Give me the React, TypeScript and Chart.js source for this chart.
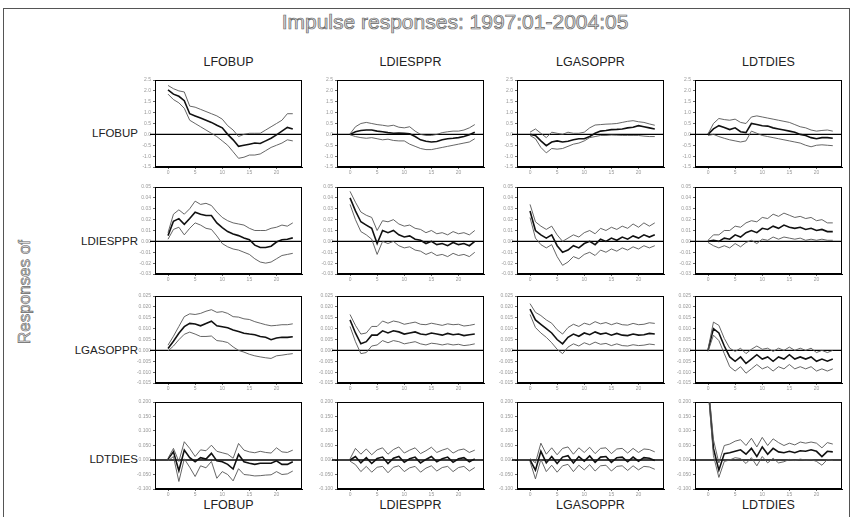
import React, { useEffect, useRef } from "react";
import { Chart, registerables } from "chart.js";

Chart.register(...registerables);

// ---------- DATA ----------
const TITLE = "Impulse responses: 1997:01-2004:05";
const SIDE_TITLE = "Responses of";
const VARS = ["LFOBUP", "LDIESPPR", "LGASOPPR", "LDTDIES"];
const PERIODS = [0, 1, 2, 3, 4, 5, 6, 7, 8, 9, 10, 11, 12, 13, 14, 15, 16, 17, 18, 19, 20, 21, 22, 23];
const X_TICKS = [0, 5, 10, 15, 20];
const Y_MIN = [-1.5, -0.03, -0.015, -0.1];
const Y_MAX = [2.5, 0.05, 0.025, 0.2];
const Y_STEP = [0.5, 0.01, 0.005, 0.05];
const Y_DEC = [1, 2, 3, 3];

// Row 1: responses of LFOBUP
const R1C1_MID = [2.05, 1.85, 1.75, 1.55, 0.95, 0.85, 0.75, 0.65, 0.55, 0.42, 0.3, 0.0, -0.25, -0.55, -0.5, -0.45, -0.4, -0.42, -0.3, -0.18, -0.02, 0.15, 0.32, 0.25];
const R1C1_UP = [2.25, 2.1, 2.0, 1.95, 1.3, 1.25, 1.15, 1.05, 0.95, 0.85, 0.7, 0.4, 0.2, -0.1, 0.0, 0.05, 0.05, 0.05, 0.2, 0.35, 0.5, 0.65, 0.95, 0.95];
const R1C1_LO = [1.85, 1.6, 1.45, 1.2, 0.65, 0.5, 0.35, 0.2, 0.05, -0.1, -0.3, -0.5, -0.8, -1.1, -1.05, -0.95, -0.95, -0.9, -0.75, -0.6, -0.5, -0.4, -0.25, -0.3];

const R1C2_MID = [0.0, 0.12, 0.18, 0.2, 0.2, 0.15, 0.12, 0.08, 0.05, 0.06, 0.05, 0.03, -0.1, -0.25, -0.32, -0.35, -0.33, -0.25, -0.2, -0.18, -0.15, -0.1, -0.02, 0.1];
const R1C2_UP = [0.02, 0.35, 0.5, 0.55, 0.5, 0.45, 0.42, 0.38, 0.42, 0.33, 0.3, 0.35, 0.15, 0.0, -0.05, -0.05, 0.0, 0.08, 0.12, 0.15, 0.15, 0.2, 0.3, 0.45];
const R1C2_LO = [-0.02, -0.1, -0.15, -0.18, -0.15, -0.2, -0.25, -0.22, -0.28, -0.3, -0.3, -0.45, -0.55, -0.65, -0.7, -0.7, -0.65, -0.6, -0.55, -0.5, -0.45, -0.4, -0.35, -0.2];

const R1C3_MID = [0.0, -0.05, -0.3, -0.52, -0.35, -0.3, -0.35, -0.32, -0.25, -0.2, -0.2, -0.1, 0.05, 0.15, 0.18, 0.22, 0.23, 0.25, 0.3, 0.33, 0.4, 0.35, 0.3, 0.25];
const R1C3_UP = [0.1, 0.25, 0.05, -0.15, 0.1, 0.05, 0.0, 0.1, 0.05, 0.05, 0.1, 0.3, 0.43, 0.45, 0.47, 0.48, 0.5, 0.55, 0.6, 0.63, 0.58, 0.55, 0.48, 0.42];
const R1C3_LO = [-0.05, -0.2, -0.6, -0.85, -0.65, -0.68, -0.65, -0.55, -0.45, -0.4, -0.3, -0.15, -0.1, -0.05, -0.05, -0.03, -0.04, -0.05, -0.05, -0.05, -0.05, -0.08, -0.1, -0.1];

const R1C4_MID = [0.0, 0.25, 0.4, 0.32, 0.22, 0.3, 0.12, 0.08, 0.5, 0.45, 0.4, 0.38, 0.3, 0.25, 0.2, 0.15, 0.1, 0.0, -0.05, -0.15, -0.2, -0.15, -0.15, -0.18];
const R1C4_UP = [0.02, 0.5, 0.73, 0.68, 0.65, 0.7, 0.55, 0.5, 0.8, 0.85, 0.8, 0.75, 0.7, 0.65, 0.6, 0.55, 0.45, 0.35, 0.3, 0.2, 0.15, 0.18, 0.2, 0.15];
const R1C4_LO = [-0.05, 0.0, -0.1, -0.18, -0.25, -0.3, -0.35, -0.3, 0.15, 0.05, -0.05, -0.1, -0.15, -0.2, -0.25, -0.3, -0.35, -0.4, -0.5, -0.57, -0.5, -0.48, -0.5, -0.52];

// Row 2: responses of LDIESPPR
const R2C1_MID = [0.0053, 0.0185, 0.0209, 0.0156, 0.021, 0.0268, 0.025, 0.0238, 0.0238, 0.017, 0.0126, 0.009, 0.0068, 0.0053, 0.0032, 0.0015, -0.0035, -0.0056, -0.0056, -0.0044, -0.0006, 0.0015, 0.002, 0.0032];
const R2C1_UP = [0.008, 0.025, 0.029, 0.025, 0.03, 0.037, 0.034, 0.035, 0.033, 0.027, 0.022, 0.019, 0.017, 0.016, 0.015, 0.012, 0.01, 0.01, 0.01, 0.012, 0.013, 0.015, 0.014, 0.017];
const R2C1_LO = [0.002, 0.011, 0.013, 0.006, 0.012, 0.017, 0.015, 0.012, 0.011, 0.005, -0.002, -0.005, -0.007, -0.008, -0.01, -0.012, -0.016, -0.019, -0.02, -0.019, -0.016, -0.013, -0.012, -0.011];

const R2C2_MID = [0.04, 0.028, 0.018, 0.015, 0.012, -0.002, 0.01, 0.008, 0.01, 0.006, 0.004, 0.005, 0.002, 0.001, -0.002, 0.0, -0.003, -0.002, -0.004, -0.001, -0.003, -0.002, -0.004, 0.0];
const R2C2_UP = [0.046, 0.036, 0.027, 0.024, 0.022, 0.01, 0.019, 0.018, 0.02, 0.016, 0.014, 0.015, 0.012, 0.011, 0.008, 0.01, 0.007, 0.008, 0.006, 0.009, 0.007, 0.008, 0.006, 0.01];
const R2C2_LO = [0.034, 0.02, 0.009, 0.006, 0.002, -0.012, 0.0, -0.002, 0.0, -0.004, -0.006, -0.005, -0.008, -0.009, -0.012, -0.01, -0.013, -0.012, -0.014, -0.011, -0.013, -0.012, -0.014, -0.01];

const R2C3_MID = [0.028, 0.01, 0.006, 0.003, 0.006, -0.004, -0.01, -0.008, -0.004, -0.006, -0.002, 0.0, -0.003, 0.002, 0.0, 0.003, 0.001, 0.004, 0.002, 0.005, 0.003, 0.006, 0.004, 0.006];
const R2C3_UP = [0.034, 0.018, 0.014, 0.011, 0.014, 0.006, 0.0, 0.003, 0.006, 0.004, 0.008, 0.01, 0.007, 0.012, 0.01, 0.013, 0.011, 0.014, 0.012, 0.016, 0.013, 0.017, 0.014, 0.017];
const R2C3_LO = [0.022, 0.003, -0.003, -0.006, -0.003, -0.014, -0.022, -0.019, -0.014, -0.016, -0.012, -0.01, -0.013, -0.008, -0.01, -0.007, -0.009, -0.006, -0.008, -0.005, -0.007, -0.004, -0.006, -0.004];

const R2C4_MID = [0.0, 0.001, 0.0, 0.003, 0.002, 0.006, 0.004, 0.008, 0.01, 0.008, 0.012, 0.011, 0.014, 0.012, 0.015, 0.013, 0.012, 0.013, 0.011, 0.012, 0.01, 0.011, 0.009, 0.009];
const R2C4_UP = [0.001, 0.006, 0.006, 0.01, 0.01, 0.014, 0.013, 0.017, 0.019, 0.018, 0.022, 0.021, 0.025, 0.023, 0.026, 0.024, 0.022, 0.023, 0.021, 0.022, 0.019, 0.02, 0.017, 0.017];
const R2C4_LO = [-0.001, -0.004, -0.006, -0.004, -0.006, -0.002, -0.005, -0.001, 0.001, -0.002, 0.002, 0.001, 0.004, 0.002, 0.004, 0.003, 0.002, 0.003, 0.001, 0.002, 0.001, 0.002, 0.001, 0.001];

// Row 3: responses of LGASOPPR
const R3C1_MID = [0.0009, 0.0042, 0.0079, 0.0109, 0.0124, 0.0121, 0.0113, 0.0124, 0.0134, 0.0113, 0.0109, 0.0104, 0.0094, 0.0087, 0.0079, 0.0075, 0.0072, 0.0064, 0.006, 0.0049, 0.0057, 0.006, 0.006, 0.0063];
const R3C1_UP = [0.0024, 0.0065, 0.011, 0.0155, 0.0168, 0.0165, 0.017, 0.018, 0.0187, 0.0175, 0.0178, 0.017, 0.0155, 0.0153, 0.0145, 0.0142, 0.0132, 0.0125, 0.0118, 0.0113, 0.0115, 0.0118, 0.0118, 0.0122];
const R3C1_LO = [-0.0003, 0.002, 0.0049, 0.0074, 0.0084, 0.0075, 0.0064, 0.0064, 0.0066, 0.0045, 0.0042, 0.0036, 0.0016, 0.0, -0.0008, -0.0018, -0.0025, -0.003, -0.0034, -0.0037, -0.0025, -0.0022, -0.0018, -0.0015];

const R3C2_MID = [0.014, 0.008, 0.003, 0.004, 0.007, 0.007, 0.009, 0.008, 0.009, 0.0085, 0.0075, 0.008, 0.0085, 0.0075, 0.0072, 0.008, 0.0075, 0.007, 0.0078, 0.0072, 0.0075, 0.0068, 0.0072, 0.0075];
const R3C2_UP = [0.0165, 0.0115, 0.0075, 0.008, 0.011, 0.011, 0.0135, 0.0125, 0.0135, 0.013, 0.012, 0.0125, 0.013, 0.012, 0.0118, 0.0125, 0.012, 0.0115, 0.0122, 0.0118, 0.012, 0.0112, 0.0115, 0.012];
const R3C2_LO = [0.011, 0.004, -0.0015, -0.001, 0.002, 0.0025, 0.0045, 0.0035, 0.0045, 0.004, 0.003, 0.0035, 0.004, 0.003, 0.0025, 0.0033, 0.003, 0.0025, 0.003, 0.0025, 0.0028, 0.0022, 0.0025, 0.003];

const R3C3_MID = [0.019, 0.014, 0.012, 0.01, 0.008, 0.005, 0.003, 0.006, 0.0075, 0.0065, 0.008, 0.0072, 0.0085, 0.0075, 0.008, 0.007, 0.0078, 0.007, 0.0068, 0.0075, 0.007, 0.0072, 0.0078, 0.0075];
const R3C3_UP = [0.0215, 0.0175, 0.016, 0.014, 0.0125, 0.0095, 0.0075, 0.0105, 0.012, 0.011, 0.0125, 0.0118, 0.0132, 0.0122, 0.0128, 0.0118, 0.0126, 0.0118, 0.0116, 0.0124, 0.0118, 0.012, 0.0127, 0.0124];
const R3C3_LO = [0.0165, 0.0105, 0.008, 0.006, 0.0035, 0.0005, -0.0015, 0.0015, 0.003, 0.002, 0.0035, 0.0026, 0.0038, 0.0028, 0.0032, 0.0022, 0.003, 0.0022, 0.002, 0.0026, 0.0022, 0.0024, 0.0029, 0.0026];

const R3C4_MID = [0.0, 0.01, 0.008, 0.002, -0.003, -0.005, -0.003, -0.006, -0.004, -0.002, -0.004, -0.003, -0.005, -0.003, -0.004, -0.002, -0.004, -0.003, -0.004, -0.003, -0.005, -0.004, -0.005, -0.004];
const R3C4_UP = [0.0005, 0.013, 0.0115, 0.0055, 0.001, -0.0005, 0.001, -0.0015, 0.0005, 0.002, 0.0005, 0.001, -0.0005, 0.001, 0.0, 0.0015, 0.0, 0.001, 0.0, 0.001, -0.001, 0.0, -0.001, 0.0];
const R3C4_LO = [-0.0005, 0.007, 0.0045, -0.0015, -0.0075, -0.0095, -0.0075, -0.0105, -0.0085, -0.0065, -0.0085, -0.0075, -0.0095, -0.0075, -0.0085, -0.0065, -0.0085, -0.0075, -0.0085, -0.0075, -0.0095, -0.0085, -0.0095, -0.0085];

// Row 4: responses of LDTDIES
const R4C1_MID = [0.003, 0.028, -0.037, 0.034, 0.008, -0.006, 0.008, 0.003, 0.023, -0.003, -0.006, -0.015, -0.031, 0.019, -0.006, -0.011, -0.015, -0.011, -0.011, -0.011, -0.003, -0.015, -0.015, -0.006];
const R4C1_UP = [0.006, 0.04, -0.005, 0.063, 0.04, 0.012, 0.035, 0.032, 0.051, 0.03, 0.025, 0.02, 0.006, 0.057, 0.034, 0.028, 0.025, 0.03, 0.026, 0.024, 0.042, 0.028, 0.026, 0.034];
const R4C1_LO = [-0.003, 0.012, -0.074, 0.004, -0.025, -0.057, -0.02, -0.027, -0.005, -0.063, -0.04, -0.05, -0.072, -0.03, -0.05, -0.052, -0.055, -0.054, -0.052, -0.051, -0.04, -0.05, -0.048, -0.038];

const R4C2_MID = [0.0, 0.012, -0.01, 0.008, -0.012, 0.005, 0.01, -0.012, 0.006, 0.012, -0.008, 0.004, 0.01, -0.01, 0.002, 0.012, -0.006, 0.004, 0.01, -0.008, 0.004, 0.008, -0.006, 0.004];
const R4C2_UP = [0.004, 0.04, 0.02, 0.038, 0.018, 0.035, 0.042, 0.02, 0.036, 0.045, 0.024, 0.034, 0.042, 0.022, 0.032, 0.044, 0.026, 0.034, 0.04, 0.024, 0.034, 0.038, 0.026, 0.034];
const R4C2_LO = [-0.004, -0.016, -0.04, -0.022, -0.042, -0.025, -0.022, -0.044, -0.025, -0.02, -0.04, -0.027, -0.022, -0.042, -0.028, -0.02, -0.038, -0.026, -0.022, -0.04, -0.026, -0.022, -0.038, -0.026];

const R4C3_MID = [0.0, -0.035, 0.03, -0.01, 0.012, -0.012, 0.01, 0.015, -0.01, 0.012, -0.004, 0.014, -0.008, 0.01, 0.012, -0.008, 0.008, 0.01, -0.006, 0.01, -0.004, 0.008, 0.006, -0.002];
const R4C3_UP = [0.005, -0.01, 0.058, 0.02, 0.042, 0.018, 0.04, 0.045, 0.02, 0.042, 0.026, 0.044, 0.022, 0.04, 0.042, 0.022, 0.038, 0.04, 0.024, 0.04, 0.026, 0.038, 0.036, 0.028];
const R4C3_LO = [-0.005, -0.065, 0.002, -0.04, -0.018, -0.042, -0.02, -0.015, -0.04, -0.018, -0.034, -0.016, -0.038, -0.02, -0.018, -0.038, -0.022, -0.02, -0.036, -0.02, -0.034, -0.022, -0.024, -0.032];

const R4C4_MID = [0.26, 0.04, -0.035, 0.022, 0.025, 0.03, 0.035, 0.02, 0.04, 0.012, 0.045, 0.02, 0.04, 0.028, 0.025, 0.03, 0.025, 0.032, 0.03, 0.035, 0.03, 0.012, 0.03, 0.028];
const R4C4_UP = [0.27, 0.07, -0.01, 0.05, 0.055, 0.065, 0.07, 0.05, 0.075, 0.045, 0.078, 0.05, 0.073, 0.06, 0.05, 0.058, 0.052, 0.062, 0.058, 0.062, 0.058, 0.042, 0.06, 0.055];
const R4C4_LO = [0.25, 0.015, -0.06, -0.005, 0.0, 0.008, 0.005, -0.012, 0.008, -0.02, 0.012, -0.01, 0.006, -0.01, -0.006, 0.002, -0.002, 0.003, 0.0, 0.002, -0.005, -0.018, 0.002, -0.002];

const SERIES = [
  [[R1C1_MID, R1C1_UP, R1C1_LO], [R1C2_MID, R1C2_UP, R1C2_LO], [R1C3_MID, R1C3_UP, R1C3_LO], [R1C4_MID, R1C4_UP, R1C4_LO]],
  [[R2C1_MID, R2C1_UP, R2C1_LO], [R2C2_MID, R2C2_UP, R2C2_LO], [R2C3_MID, R2C3_UP, R2C3_LO], [R2C4_MID, R2C4_UP, R2C4_LO]],
  [[R3C1_MID, R3C1_UP, R3C1_LO], [R3C2_MID, R3C2_UP, R3C2_LO], [R3C3_MID, R3C3_UP, R3C3_LO], [R3C4_MID, R3C4_UP, R3C4_LO]],
  [[R4C1_MID, R4C1_UP, R4C1_LO], [R4C2_MID, R4C2_UP, R4C2_LO], [R4C3_MID, R4C3_UP, R4C3_LO], [R4C4_MID, R4C4_UP, R4C4_LO]],
];

// ---------- LAYOUT ----------
const COL_LEFT = [155, 337, 517, 695];
const ROW_TOP = [78, 185, 294, 400];
const BOX_W = 147;
const BOX_H = 89;
const AX_W = 24;
const PAD_T = 3;
const PAD_R = 4;
const AX_H = 11;

const framePlugin = {
  id: "frameZero",
  beforeDatasetsDraw(chart: any) {
    const { ctx, chartArea: a, scales } = chart;
    const zy = scales.y.getPixelForValue(0);
    ctx.save();
    ctx.strokeStyle = "#000";
    ctx.lineWidth = 1.4;
    ctx.beginPath();
    ctx.moveTo(a.left - 5, zy);
    ctx.lineTo(a.right, zy);
    ctx.stroke();
    ctx.lineWidth = 1;
    ctx.strokeRect(a.left + 0.5, a.top + 0.5, a.right - a.left - 1, a.bottom - a.top - 1);
    ctx.restore();
  },
};

function Panel({ row, col }: { row: number; col: number }) {
  const ref = useRef<HTMLCanvasElement>(null);
  const w = BOX_W + AX_W + PAD_R;
  const h = BOX_H + PAD_T + AX_H;
  useEffect(() => {
    const [mid, up, lo] = SERIES[row][col];
    const pts = (arr: number[]) => arr.map((v, i) => ({ x: PERIODS[i], y: v }));
    const band = (arr: number[]) => ({
      data: pts(arr),
      borderColor: "#555",
      borderWidth: 0.9,
      pointRadius: 0,
      tension: 0,
      fill: false,
    });
    const tickFont = { size: 5, family: "Liberation Sans" };
    const grid = { display: true, drawOnChartArea: false, drawTicks: true, tickLength: 2, color: "#666" };
    const chart = new Chart(ref.current as HTMLCanvasElement, {
      type: "line",
      data: {
        datasets: [
          band(up),
          band(lo),
          { data: pts(mid), borderColor: "#111", borderWidth: 1.6, pointRadius: 0, tension: 0, fill: false },
        ],
      },
      options: {
        animation: false,
        responsive: false,
        events: [],
        layout: { padding: { top: PAD_T, right: PAD_R, left: 0, bottom: 0 } },
        plugins: { legend: { display: false }, tooltip: { enabled: false } },
        scales: {
          x: {
            type: "linear",
            min: -2.4,
            max: 24.7,
            afterBuildTicks: (s: any) => {
              s.ticks = X_TICKS.map((v) => ({ value: v }));
            },
            afterFit: (s: any) => {
              s.height = AX_H;
            },
            ticks: { font: tickFont, color: "#999", padding: 1, maxRotation: 0, autoSkip: false, callback: (v: any) => String(v) },
            grid,
            border: { display: true, color: "#000" },
          },
          y: {
            type: "linear",
            min: Y_MIN[row],
            max: Y_MAX[row],
            afterFit: (s: any) => {
              s.width = AX_W;
            },
            ticks: {
              stepSize: Y_STEP[row],
              font: tickFont,
              color: "#999",
              padding: 2,
              autoSkip: false,
              callback: (v: any) => Number(v).toFixed(Y_DEC[row]),
            },
            grid,
            border: { display: true, color: "#000" },
          },
        },
      } as any,
      plugins: [framePlugin],
    });
    return () => chart.destroy();
  }, [row, col]);
  return (
    <canvas
      ref={ref}
      width={w}
      height={h}
      style={{ position: "absolute", left: COL_LEFT[col] - AX_W, top: ROW_TOP[row] - PAD_T, width: w, height: h }}
    />
  );
}

const labelFont = "'Liberation Sans', Arial, sans-serif";

export default function App() {
  return (
    <div style={{ position: "absolute", left: 0, top: 0, width: 852, height: 517, overflow: "hidden", background: "#fff", fontFamily: labelFont }}>
      <div style={{ position: "absolute", left: 3, top: 8, width: 845, height: 520, border: "1px solid #555" }} />
      <div
        style={{
          position: "absolute",
          left: 0,
          width: 910,
          top: 9,
          textAlign: "center",
          fontSize: 21,
          lineHeight: "26px",
          color: "#ddd",
          WebkitTextStroke: "0.7px #666",
          whiteSpace: "nowrap",
        }}
      >
        {TITLE}
      </div>
      <div
        style={{
          position: "absolute",
          left: 25,
          top: 292,
          transform: "translate(-50%, -50%) rotate(-90deg)",
          fontSize: 17,
          color: "#ddd",
          WebkitTextStroke: "0.6px #666",
          whiteSpace: "nowrap",
        }}
      >
        {SIDE_TITLE}
      </div>
      {VARS.map((v, c) => (
        <div
          key={"top" + v}
          style={{ position: "absolute", left: COL_LEFT[c], width: BOX_W, top: 54, textAlign: "center", fontSize: 12.5, lineHeight: "16px", color: "#222" }}
        >
          {v}
        </div>
      ))}
      {VARS.map((v, c) => (
        <div
          key={"bot" + v}
          style={{ position: "absolute", left: COL_LEFT[c], width: BOX_W, top: 497, textAlign: "center", fontSize: 12.5, lineHeight: "16px", color: "#222" }}
        >
          {v}
        </div>
      ))}
      {VARS.map((v, r) => (
        <div
          key={"row" + v}
          style={{ position: "absolute", left: 40, width: 98, top: [125, 233, 342, 451][r], textAlign: "right", fontSize: 11.5, lineHeight: "16px", color: "#222" }}
        >
          {v}
        </div>
      ))}
      {[0, 1, 2, 3].map((r) => [0, 1, 2, 3].map((c) => <Panel key={r + "-" + c} row={r} col={c} />))}
    </div>
  );
}
